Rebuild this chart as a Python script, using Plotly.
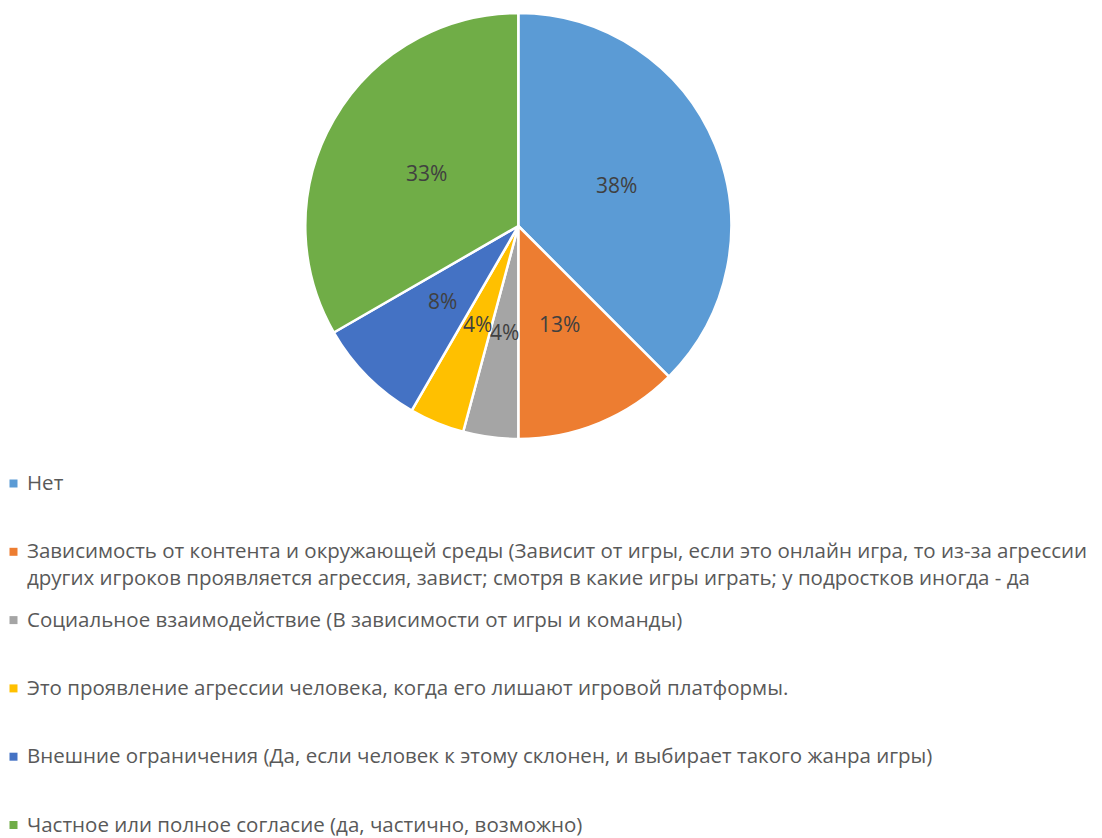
import math
import plotly.graph_objects as go

# Survey answers (number of respondents per answer)
categories = [
    "Нет",
    "Зависимость от контента и окружающей среды (Зависит от игры, если это онлайн игра, то из-за агрессии других игроков проявляется агрессия, завист; смотря в какие игры играть; у подростков иногда - да",
    "Социальное взаимодействие (В зависимости от игры и команды)",
    "Это проявление агрессии человека, когда его лишают игровой платформы.",
    "Внешние ограничения (Да, если человек к этому склонен, и выбирает такого жанра игры)",
    "Частное или полное согласие (да, частично, возможно)",
]
legend_text = [
    "Нет",
    "Зависимость от контента и окружающей среды (Зависит от игры, если это онлайн игра, то из-за агрессии<br>"
    "других игроков проявляется агрессия, завист; смотря в какие игры играть; у подростков иногда - да",
    "Социальное взаимодействие (В зависимости от игры и команды)",
    "Это проявление агрессии человека, когда его лишают игровой платформы.",
    "Внешние ограничения (Да, если человек к этому склонен, и выбирает такого жанра игры)",
    "Частное или полное согласие (да, частично, возможно)",
]
counts = [9, 3, 1, 1, 2, 8]
colors = ["#5B9BD5", "#ED7D31", "#A5A5A5", "#FFC000", "#4472C4", "#70AD47"]

W, H = 1102, 838
CX, CY, R = 518.3, 226.0, 213.0
FONT = "Open Sans, Noto Sans, sans-serif"

fig = go.Figure(
    go.Pie(
        labels=categories,
        values=counts,
        sort=False,
        direction="clockwise",
        rotation=0,
        marker=dict(colors=colors, line=dict(color="white", width=2.5)),
        textinfo="none",
        showlegend=False,
        domain=dict(
            x=[(CX - R) / W, (CX + R) / W],
            y=[1 - (CY + R) / H, 1 - (CY - R) / H],
        ),
    )
)

annotations = []
shapes = []

# Percentage labels at half radius of each slice, horizontal text
total = sum(counts)
acc = 0
for c in counts:
    mid = (acc + c / 2) / total * 2 * math.pi
    acc += c
    px = CX + 0.5 * R * math.sin(mid)
    py = CY - 0.5 * R * math.cos(mid)
    pct = math.floor(c / total * 100 + 0.5)
    annotations.append(dict(
        x=px / W, y=1 - py / H, xref="paper", yref="paper",
        text=f"{pct}%", showarrow=False, xanchor="center", yanchor="middle",
        font=dict(family=FONT, size=21, color="#404040"),
    ))

# Legend: square swatch plus label, evenly spaced rows
LEG_SIZE = 20.5
ROW0, PITCH, LINE_H = 483.5, 68.3, 1.3 * LEG_SIZE
for i, (txt, col) in enumerate(zip(legend_text, colors)):
    yc = ROW0 + PITCH * i
    n_lines = txt.count("<br>") + 1
    ymid = yc + (n_lines - 1) * LINE_H / 2 - 1.5
    shapes.append(dict(
        type="rect", xref="paper", yref="paper",
        x0=9.5 / W, x1=17.5 / W, y0=1 - (yc + 4) / H, y1=1 - (yc - 4) / H,
        fillcolor=col, line=dict(width=0),
    ))
    annotations.append(dict(
        x=25 / W, y=1 - ymid / H, xref="paper", yref="paper",
        text=txt, showarrow=False, xanchor="left", yanchor="middle", align="left",
        font=dict(family=FONT, size=LEG_SIZE, color="#595959"),
    ))

fig.update_layout(
    width=W, height=H,
    margin=dict(l=0, r=0, t=0, b=0),
    paper_bgcolor="white", plot_bgcolor="white",
    annotations=annotations, shapes=shapes,
)

fig.write_html("out.html")
